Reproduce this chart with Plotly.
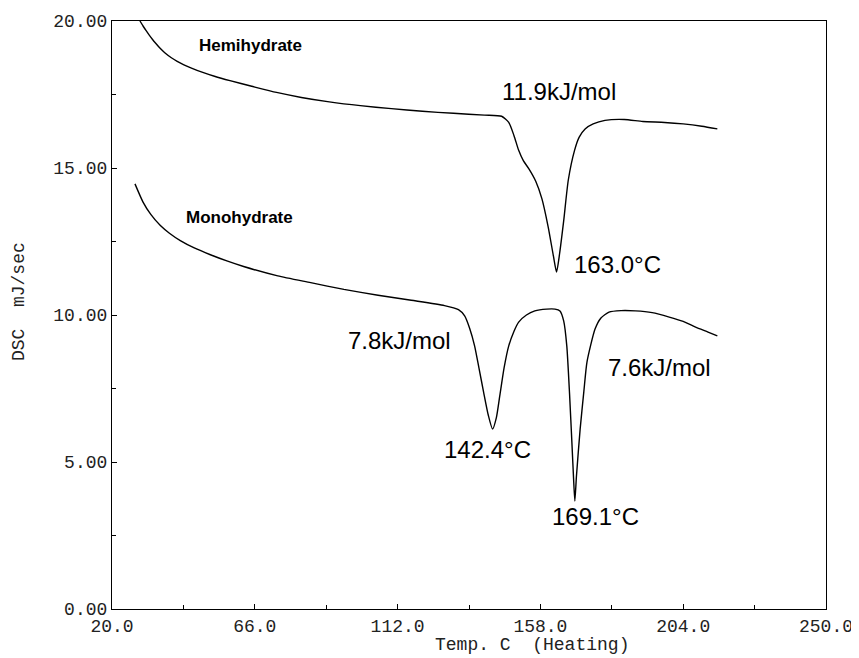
import plotly.graph_objects as go

# ---- data ----
hemi_x = [29, 30, 31, 32, 33, 34, 35.5, 37, 39, 41, 43, 45.6, 49, 53, 58, 65, 73, 81, 90,
          100, 110, 120, 130, 140, 145.5, 147.8, 149.5, 151, 152.5, 154.3, 156.5, 158.5,
          160.5, 162.2, 163.2, 164.2, 165.5, 167, 169, 170.5, 172.4, 175, 178.8, 185, 191,
          198, 204, 210, 215]
hemi_y = [20.0, 19.83, 19.67, 19.52, 19.38, 19.25, 19.07, 18.92, 18.76, 18.63, 18.52, 18.4,
          18.26, 18.12, 17.97, 17.78, 17.57, 17.4, 17.25, 17.12, 17.02, 16.93, 16.86, 16.8,
          16.76, 16.55, 16.1, 15.6, 15.25, 14.97, 14.55, 13.95, 13.0, 12.0, 11.46, 12.1,
          13.2, 14.6, 15.6, 16.05, 16.33, 16.5, 16.62, 16.65, 16.58, 16.55, 16.5, 16.42,
          16.33]

mono_x = [27.4, 30, 32.5, 35.5, 38.5, 42, 46.5, 51.7, 57, 62.4, 73.4, 84, 94.7, 105.7,
          116.4, 127.1, 131.6, 133.6, 135.2, 136.8, 138.2, 139.7, 141.2, 142.6, 143.8,
          144.9, 146.3, 147.8, 149.5, 151, 153.5, 156.2, 160, 162.7, 164.3, 165.5, 166.5,
          167.4, 168.2, 168.7, 169.1, 169.6, 170.8, 172, 173, 175.6, 177.5, 180.1, 184,
          188.6, 194, 199.5, 204, 208, 212, 215]
mono_y = [14.46, 13.84, 13.42, 13.05, 12.78, 12.53, 12.28, 12.05, 11.84, 11.65, 11.33,
          11.1, 10.87, 10.67, 10.5, 10.32, 10.18, 9.97, 9.55, 8.95, 8.2, 7.38, 6.6, 6.12,
          6.5, 7.24, 8.2, 8.95, 9.45, 9.76, 10.0, 10.14, 10.2, 10.2, 10.14, 9.8, 8.95, 7.3,
          5.54, 4.4, 3.67, 4.5, 6.12, 7.4, 8.4, 9.52, 9.9, 10.1, 10.15, 10.14, 10.08, 9.93,
          9.78, 9.59, 9.42, 9.29]

x_ticks = [20.0, 66.0, 112.0, 158.0, 204.0, 250.0]
x_tick_labels = ["20.0", "66.0", "112.0", "158.0", "204.0", "250.0"]
y_ticks = [0, 5, 10, 15, 20]
y_tick_labels = ["0.00", "5.00", "10.00", "15.00", "20.00"]

series_labels = ["Hemihydrate", "Monohydrate"]
peak_labels = ["11.9kJ/mol", "163.0°C", "7.8kJ/mol", "142.4°C", "7.6kJ/mol", "169.1°C"]
x_title = "Temp. C  (Heating)"
y_title = "DSC  mJ/sec"

fig = go.Figure()
line_style = dict(color="black", width=1.4, shape="spline", smoothing=0.6)
fig.add_trace(go.Scatter(x=hemi_x, y=hemi_y, mode="lines", line=line_style,
                         name=series_labels[0], showlegend=False))
fig.add_trace(go.Scatter(x=mono_x, y=mono_y, mode="lines", line=line_style,
                         name=series_labels[1], showlegend=False))

lab_font = dict(family="Liberation Sans, Arial", size=17, color="black", weight="bold")
peak_font = dict(family="Liberation Sans, Arial", size=24, color="black")
mono_font = dict(family="Liberation Mono, DejaVu Sans Mono", size=18, color="#222")

ann = [
    (64.6, 19.15, series_labels[0], lab_font),
    (61.1, 13.33, series_labels[1], lab_font),
    (164.0, 17.59, peak_labels[0], peak_font),
    (182.7, 11.73, peak_labels[1], peak_font),
    (112.5, 9.12, peak_labels[2], peak_font),
    (141.0, 5.44, peak_labels[3], peak_font),
    (196.3, 8.23, peak_labels[4], peak_font),
    (175.9, 3.15, peak_labels[5], peak_font),
]
for ax_, ay_, t, f in ann:
    fig.add_annotation(x=ax_, y=ay_, xref="x", yref="y", text=t, showarrow=False,
                       font=f, xanchor="center", yanchor="middle")

# axis titles
fig.add_annotation(x=155.2, y=0, xref="x", yref="paper", yshift=-36, text=x_title,
                   showarrow=False, font=mono_font, xanchor="center", yanchor="middle")
fig.add_annotation(x=0, y=10.44, xref="paper", yref="y", xshift=-93, text=y_title,
                   textangle=-90, showarrow=False, font=mono_font,
                   xanchor="center", yanchor="middle")

tick_font = dict(family="Liberation Mono, DejaVu Sans Mono", size=18, color="#222")

fig.update_xaxes(range=[20, 250], tickvals=x_ticks, ticktext=x_tick_labels,
                 showline=True, linecolor="black", linewidth=1.2, mirror=True,
                 ticks="inside", ticklen=5, tickcolor="black", showgrid=False,
                 zeroline=False, tickfont=tick_font, automargin=False,
                 minor=dict(dtick=23, tick0=20, ticks="inside", ticklen=4, tickcolor="black"))
fig.update_yaxes(range=[0, 20], tickvals=y_ticks, ticktext=y_tick_labels,
                 showline=True, linecolor="black", linewidth=1.2, mirror=True,
                 ticks="inside", ticklen=5, tickcolor="black", showgrid=False,
                 zeroline=False, tickfont=tick_font, automargin=False,
                 minor=dict(dtick=2.5, ticks="inside", ticklen=4, tickcolor="black"))

# the page body adds an 8px offset, so the figure is sized to fit the window
fig.update_layout(width=851, height=650, margin=dict(l=104, r=33, t=13, b=49),
                  paper_bgcolor="white", plot_bgcolor="white", showlegend=False)

fig.write_html("out.html")
